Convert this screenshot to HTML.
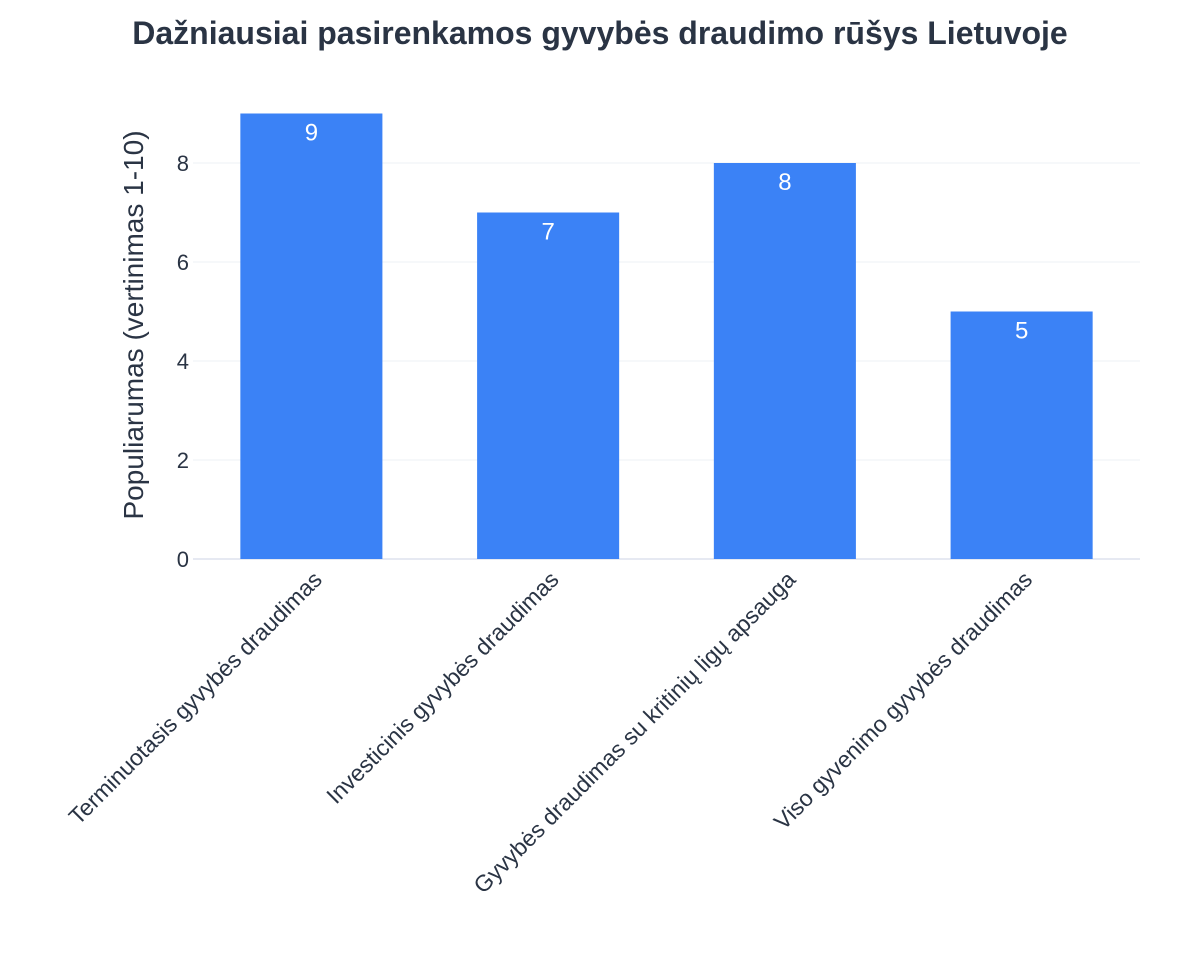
<!DOCTYPE html>
<html><head><meta charset="utf-8"><style>
body{margin:0;background:#fff;width:1200px;height:975px;overflow:hidden}
svg{font-family:"Liberation Sans",Arial,sans-serif}
</style></head><body>
<svg id="chart" width="1200" height="975" xmlns="http://www.w3.org/2000/svg">
<text x="600" y="44" text-anchor="middle" font-size="32" font-weight="bold" fill="#2a3444">Dažniausiai pasirenkamos gyvybės draudimo rūšys Lietuvoje</text>
<g id="grid"></g><g id="bars"></g><g id="labels"></g>
<text transform="translate(143,325) rotate(-90)" text-anchor="middle" font-size="28" fill="#2a3444">Populiarumas (vertinimas 1-10)</text>
</svg>
<script>
const categories=["Terminuotasis gyvybės draudimas","Investicinis gyvybės draudimas","Gyvybės draudimas su kritinių ligų apsauga","Viso gyvenimo gyvybės draudimas"];
const values=[9,7,8,5];
const yTicks=[0,2,4,6,8];
const NS="http://www.w3.org/2000/svg";
const x0=193,x1=1140,yBase=559,pxPerUnit=49.5;
const y=v=>yBase-v*pxPerUnit;
const band=(x1-x0)/categories.length;
const bx=i=>x0+band*i+band/2;
function mk(t,a,p){const e=document.createElementNS(NS,t);for(const k in a)e.setAttribute(k,a[k]);p.appendChild(e);return e;}
const grid=document.getElementById('grid'),bars=document.getElementById('bars'),labels=document.getElementById('labels');
yTicks.forEach(t=>{
  const l=mk('line',{x1:x0,x2:x1,y1:y(t),y2:y(t),stroke:t===0?'#e6e9f2':'#eef0f5','stroke-width':t===0?2:1},grid);
  
  
  const tx=mk('text',{x:x0-4,y:y(t)+8,'text-anchor':'end','font-size':22,fill:'#2a3444'},grid);
  tx.textContent=t;
  
  
});
const bw=band*0.6;
values.forEach((v,i)=>{
  const r=mk('rect',{x:bx(i)-bw/2,y:y(v),width:bw,height:y(0)-y(v),fill:'#3b82f6'},bars);
  
  
  const t=mk('text',{x:bx(i),y:y(v)+27,'text-anchor':'middle','font-size':24,fill:'#fff'},bars);
  t.textContent=v;
  
  
  const c=mk('text',{transform:`translate(${bx(i)+12},${y(0)+22}) rotate(-45)`,'text-anchor':'end','font-size':23,fill:'#2a3444'},labels);
  c.textContent=categories[i];
  
  
});
</script>
</body></html>
